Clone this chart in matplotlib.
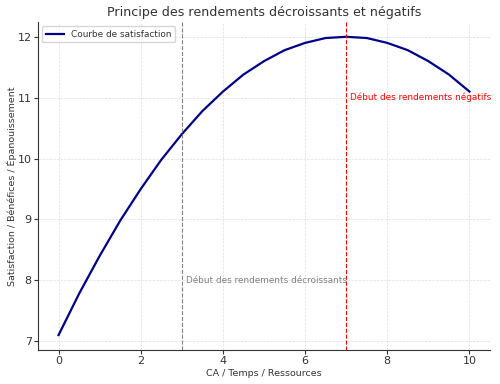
import numpy as np
import matplotlib.pyplot as plt

# values every 0.25 unit
x = [0, 0.25, 0.5, 0.75, 1, 1.25, 1.5, 1.75, 2, 2.25, 2.5, 2.75, 3, 3.25, 3.5, 3.75,
     4, 4.25, 4.5, 4.75, 5, 5.25, 5.5, 5.75, 6, 6.25, 6.5, 6.75, 7, 7.25, 7.5, 7.75,
     8, 8.25, 8.5, 8.75, 9, 9.25, 9.5, 9.75, 10]
y = [7.1, 7.44, 7.78, 8.09, 8.4, 8.69, 8.98, 9.24, 9.5, 9.74, 9.98, 10.19, 10.4,
     10.59, 10.78, 10.94, 11.1, 11.24, 11.38, 11.49, 11.6, 11.69, 11.78, 11.84,
     11.9, 11.94, 11.98, 11.99, 12.0, 11.99, 11.98, 11.94, 11.9, 11.84, 11.78,
     11.69, 11.6, 11.49, 11.38, 11.24, 11.1]
x_decr = 3
x_neg = 7

txt = '#333333'
fig = plt.figure(figsize=(5.0, 3.84), dpi=100)
ax = fig.add_axes([0.076, 0.0885, 0.904, 0.8545])

ax.plot(x, y, color='darkblue', linewidth=1.6, label='Courbe de satisfaction')
ax.axvline(x_decr, color='gray', linestyle='--', linewidth=0.8)
ax.axvline(x_neg, color='red', linestyle='--', linewidth=0.8)
ax.text(x_decr + 0.1, 8, 'Début des rendements décroissants', color='gray',
        fontsize=6.4, va='center')
ax.text(x_neg + 0.1, 11, 'Début des rendements négatifs', color='red',
        fontsize=6.4, va='center')

ax.set_title('Principe des rendements décroissants et négatifs', fontsize=9.1,
             color=txt, pad=4)
ax.set_xlabel('CA / Temps / Ressources', fontsize=6.8, color=txt, labelpad=2)
ax.set_ylabel('Satisfaction / Bénéfices / Épanouissement', fontsize=6.8,
              color=txt, labelpad=0.5)
ax.tick_params(labelsize=8, colors=txt, length=3, pad=1.5)
ax.grid(True, linestyle='--', linewidth=0.5, color='#dddddd')
ax.spines['top'].set_visible(False)
ax.spines['right'].set_visible(False)
ax.spines['left'].set_color(txt)
ax.spines['bottom'].set_color(txt)
leg = ax.legend(loc='upper left', fontsize=6.4)
for t in leg.get_texts():
    t.set_color(txt)

fig.savefig('out.png', dpi=100)
